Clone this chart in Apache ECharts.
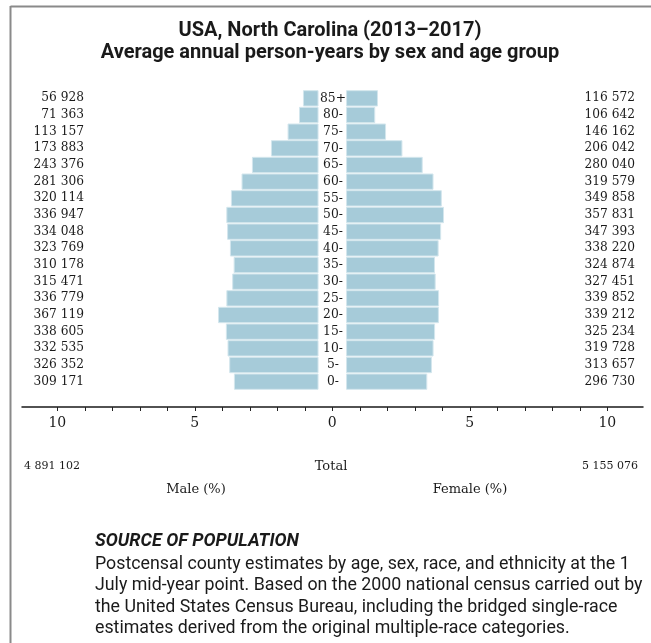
<!DOCTYPE html>
<html>
<head>
<meta charset="utf-8">
<script src="https://cdn.jsdelivr.net/npm/echarts@6/dist/echarts.min.js"></script>
<style>
html,body{margin:0;padding:0;background:#fff;}
#chart{width:651px;height:643px;}
</style>
</head>
<body>
<div id="chart"></div>
<script>
// Age groups, youngest to oldest
const ageGroups = ['0-','5-','10-','15-','20-','25-','30-','35-','40-','45-','50-','55-','60-','65-','70-','75-','80-','85+'];
// Average annual person-years
const malePY   = [309171,326352,332535,338605,367119,336779,315471,310178,323769,334048,336947,320114,281306,243376,173883,113157,71363,56928];
const femalePY = [296730,313657,319728,325234,339212,339852,327451,324874,338220,347393,357831,349858,319579,280040,206042,146162,106642,116572];
const maleTotal = 4891102;
const femaleTotal = 5155076;
const axisTicks = [-10,-5,0,5,10];

const grandTotal = maleTotal + femaleTotal;
const malePct = malePY.map(v => -(v / grandTotal * 100));
const femalePct = femalePY.map(v => v / grandTotal * 100);
const fmt = v => String(v).replace(/\B(?=(\d{3})+(?!\d))/g, ' ');

const GAP = 0.5;
const gapArr = ageGroups.map(() => GAP);
const gapArrNeg = ageGroups.map(() => -GAP);

const SERIF = 'DejaVu Serif';
const SANS = 'Roboto';
const BAR = '#a6cbd9';
const BORDER = '#d3e6ed';
const INK = '#1a1a1a';

const chart = echarts.init(document.getElementById('chart'), null, {renderer:'canvas'});
const option = {
  backgroundColor: '#fff',
  animation: false,
  title: [
    {text: 'USA, North Carolina (2013–2017)\nAverage annual person-years by sex and age group',
     left: 330, top: 20, textAlign: 'center', padding: 0,
     textStyle: {fontFamily: SANS, fontWeight: 'bold', fontSize: 20, lineHeight: 22, color: INK}},
    {text: fmt(maleTotal), left: 24, top: 461, padding: 0,
     textStyle: {fontFamily: SERIF, fontWeight: 'normal', fontSize: 11, color: INK}},
    {text: 'Total', left: 331, top: 460, textAlign: 'center', padding: 0,
     textStyle: {fontFamily: SERIF, fontWeight: 'normal', fontSize: 13, color: INK}},
    {text: fmt(femaleTotal), left: 638, top: 461, textAlign: 'right', padding: 0,
     textStyle: {fontFamily: SERIF, fontWeight: 'normal', fontSize: 11, color: INK}},
    {text: 'Male (%)', left: 196, top: 483, textAlign: 'center', padding: 0,
     textStyle: {fontFamily: SERIF, fontWeight: 'normal', fontSize: 13, color: INK}},
    {text: 'Female (%)', left: 470, top: 483, textAlign: 'center', padding: 0,
     textStyle: {fontFamily: SERIF, fontWeight: 'normal', fontSize: 13, color: INK}},
    {text: 'SOURCE OF POPULATION', left: 95, top: 532, padding: 0,
     textStyle: {fontFamily: SANS, fontWeight: 'bold', fontStyle: 'italic', fontSize: 18, color: INK}},
    {text: 'Postcensal county estimates by age, sex, race, and ethnicity at the 1\nJuly mid-year point. Based on the 2000 national census carried out by\nthe United States Census Bureau, including the bridged single-race\nestimates derived from the original multiple-race categories.',
     left: 95, top: 554, padding: 0,
     textStyle: {fontFamily: SANS, fontWeight: 'normal', fontSize: 17.8, lineHeight: 21.3, color: INK}}
  ],
  graphic: [
    {type: 'line', shape: {x1: 10.5, y1: 6.5, x2: 651, y2: 6.5}, style: {stroke: '#8a8a8a', lineWidth: 2}},
    {type: 'line', shape: {x1: 10.5, y1: 6, x2: 10.5, y2: 643}, style: {stroke: '#8a8a8a', lineWidth: 2}}
  ],
  grid: [
    {left: 57.3, right: 43.7, top: 90, height: 300},
    {left: 22, right: 8, top: 90, height: 300}
  ],
  xAxis: [
    {type: 'value', gridIndex: 0, min: -10, max: 10, interval: 1, offset: 17,
     axisLine: {show: false},
     axisTick: {show: true, length: 4, lineStyle: {color: '#222', width: 1}},
     splitLine: {show: false},
     axisLabel: {margin: 9, fontFamily: SERIF, fontSize: 14, color: INK,
       formatter: v => axisTicks.indexOf(v) >= 0 ? String(Math.abs(v)) : ''}},
    {type: 'value', gridIndex: 1, min: 0, max: 1, offset: 17,
     axisLine: {show: true, lineStyle: {color: INK, width: 1.5}},
     axisTick: {show: false}, axisLabel: {show: false}, splitLine: {show: false}}
  ],
  yAxis: [
    {type: 'category', gridIndex: 0, data: ageGroups, position: 'left', offset: -275.7,
     axisLine: {show: false}, axisTick: {show: false},
     axisLabel: {interval: 0, margin: 0, align: 'center', fontFamily: SERIF, fontSize: 12.3, color: INK}},
    {type: 'category', gridIndex: 0, data: malePY.map(fmt), position: 'left', offset: -26.7,
     axisLine: {show: false}, axisTick: {show: false},
     axisLabel: {interval: 0, margin: 0, align: 'right', fontFamily: SERIF, fontSize: 12.2, color: INK}},
    {type: 'category', gridIndex: 0, data: femalePY.map(fmt), position: 'right', offset: 0,
     axisLine: {show: false}, axisTick: {show: false},
     axisLabel: {interval: 0, margin: 27.7, align: 'right', fontFamily: SERIF, fontSize: 12.2, color: INK}},
    {type: 'category', gridIndex: 1, data: ageGroups, show: false}
  ],
  series: [
    {type: 'bar', name: 'maleGap', xAxisIndex: 0, yAxisIndex: 0, stack: 'm', data: gapArrNeg,
     itemStyle: {color: 'rgba(0,0,0,0)'}, barCategoryGap: '2%', barGap: '-100%', silent: true},
    {type: 'bar', name: 'Male', xAxisIndex: 0, yAxisIndex: 0, stack: 'm', data: malePct,
     itemStyle: {color: BAR, borderColor: BORDER, borderWidth: 1}, barCategoryGap: '2%', barGap: '-100%'},
    {type: 'bar', name: 'femaleGap', xAxisIndex: 0, yAxisIndex: 0, stack: 'f', data: gapArr,
     itemStyle: {color: 'rgba(0,0,0,0)'}, barCategoryGap: '2%', barGap: '-100%', silent: true},
    {type: 'bar', name: 'Female', xAxisIndex: 0, yAxisIndex: 0, stack: 'f', data: femalePct,
     itemStyle: {color: BAR, borderColor: BORDER, borderWidth: 1}, barCategoryGap: '2%', barGap: '-100%'}
  ]
};
chart.setOption(option);
</script>
</body>
</html>
